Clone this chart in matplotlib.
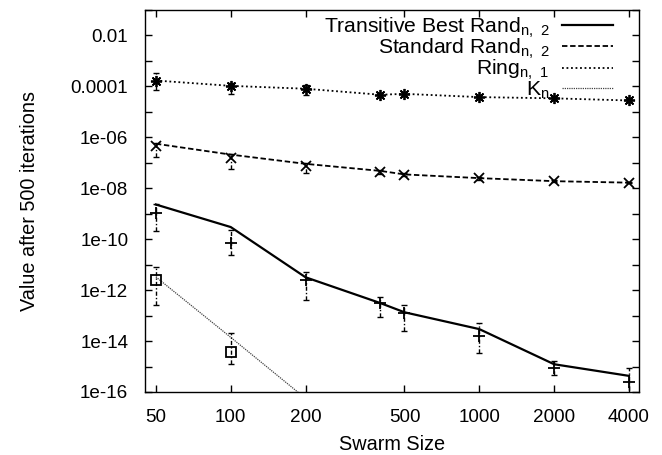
import matplotlib
matplotlib.use("Agg")
import matplotlib.pyplot as plt
from matplotlib.lines import Line2D
from matplotlib.ticker import FixedLocator, NullFormatter, FuncFormatter
import numpy as np

plt.rcParams['font.family'] = ['Liberation Sans', 'DejaVu Sans']
plt.rcParams['mathtext.default'] = 'regular'

swarm = [50, 100, 200, 400, 500, 1000, 2000, 4000]

# Transitive Best Rand_{n,2}
tb_line = [2.3e-9, 3.0e-10, 3.2e-12, 3.1e-13, 1.35e-13, 2.95e-14, 1.23e-15, 4.3e-16]
tb_pts = [1.1e-9, 6.8e-11, 2.5e-12, 3.2e-13, 1.3e-13, 1.6e-14, 8.5e-16, 2.4e-16]
tb_lo = [2.1e-10, 2.3e-11, 4.1e-13, 8.5e-14, 2.5e-14, 3.3e-15, 4.7e-16, 5e-17]
tb_hi = [2.5e-9, 2.2e-10, 5.2e-12, 5.5e-13, 2.6e-13, 4.9e-14, 1.66e-15, 8.5e-16]

# Standard Rand_{n,2}
st_line = [5.6e-7, 2.1e-7, 9.1e-8, 4.8e-8, 3.5e-8, 2.5e-8, 1.9e-8, 1.66e-8]
st_pts = [4.5e-7, 1.6e-7, 7.4e-8, 4.4e-8, 3.4e-8, 2.5e-8, 1.9e-8, 1.66e-8]
st_lo = [1.7e-7, 5.6e-8, 3.9e-8, 3.5e-8, 3.0e-8, 2.2e-8, 1.7e-8, 1.55e-8]
st_hi = [6.0e-7, 2.2e-7, 1.0e-7, 5.0e-8, 4.0e-8, 2.8e-8, 2.1e-8, 1.75e-8]

# Ring_{n,1}
rg_line = [1.7e-4, 1.05e-4, 8.1e-5, 4.7e-5, 5.1e-5, 3.8e-5, 3.4e-5, 2.8e-5]
rg_pts = [1.7e-4, 1.0e-4, 7.8e-5, 4.5e-5, 5.1e-5, 3.8e-5, 3.5e-5, 2.8e-5]
rg_lo = [7.0e-5, 4.9e-5, 4.7e-5, 3.8e-5, 4.3e-5, 3.2e-5, 3.0e-5, 2.5e-5]
rg_hi = [3.3e-4, 1.3e-4, 1.1e-4, 5.5e-5, 6.0e-5, 4.4e-5, 4.0e-5, 3.2e-5]

# K_n
kn_x = [50, 100]
kn_pts = [2.45e-12, 3.8e-15]
kn_lo = [2.6e-13, 1.26e-15]
kn_hi = [7.8e-12, 2.1e-14]
kn_line_x = [50, 100, 200]
kn_line = [3.3e-12, 1.4e-14, 5.6e-17]

xticks = [50, 100, 200, 500, 1000, 2000, 4000]
yticks = [1e-16, 1e-14, 1e-12, 1e-10, 1e-8, 1e-6, 1e-4, 1e-2]
ylabels = ['1e-16', '1e-14', '1e-12', '1e-10', '1e-08', '1e-06', '0.0001', '0.01']

labels = [r'Transitive Best Rand$_{n,\ 2}$', r'Standard Rand$_{n,\ 2}$',
          r'Ring$_{n,\ 1}$', r'K$_{n}$']

fig = plt.figure(figsize=(6.62, 4.55), dpi=100)
ax = fig.add_axes([145/662, 63/455, 494/662, 382/455])
ax.set_xscale('log')
ax.set_yscale('log')


def errs(pts, lo, hi):
    p = np.array(pts); l = np.array(lo); h = np.array(hi)
    return [p - l, h - p]


def draw_err(x, pts, lo, hi, marker, ms):
    cont = ax.errorbar(x, pts, yerr=errs(pts, lo, hi), fmt='none', ecolor='black',
                       elinewidth=1.0, capsize=2.5, capthick=1.0, zorder=3)
    for bc in cont[2]:
        bc.set_linestyle((0, (3, 1.5, 1, 1.5)))
    ax.plot(x, pts, linestyle='none', marker=marker, markersize=ms, color='black',
            markerfacecolor='none', markeredgewidth=1.3, zorder=4)


# lines
ax.plot(swarm, tb_line, color='black', lw=1.6, ls='-', zorder=2)
ax.plot(swarm, st_line, color='black', lw=1.3, ls=(0, (3, 1.5)), zorder=2)
ax.plot(swarm, rg_line, color='black', lw=1.3, ls=(0, (1, 1.5)), zorder=2)
ax.plot(kn_line_x, kn_line, color='#444444', lw=0.9, ls=(0, (1, 0.8)), zorder=2)

# points with error bars
draw_err(swarm, tb_pts, tb_lo, tb_hi, '+', 9)
draw_err(swarm, st_pts, st_lo, st_hi, 'x', 7)
draw_err(swarm, rg_pts, rg_lo, rg_hi, (8, 2, 0), 8)
draw_err(kn_x, kn_pts, kn_lo, kn_hi, 's', 7)

ax.set_xlim(45.2, 4390)
ax.set_ylim(1e-16, 1e-1)

ax.xaxis.set_major_locator(FixedLocator(xticks))
ax.xaxis.set_major_formatter(FuncFormatter(lambda v, p: '%d' % v))
ax.xaxis.set_minor_locator(FixedLocator([]))
ax.yaxis.set_major_locator(FixedLocator(yticks))
ax.set_yticklabels(ylabels)
ax.yaxis.set_minor_locator(FixedLocator([10.0 ** e for e in range(-15, 0, 2)]))
ax.yaxis.set_minor_formatter(NullFormatter())

ax.tick_params(which='both', direction='in', top=True, right=True, length=5,
               width=1.0, labelsize=13.6)
ax.tick_params(axis='x', pad=12)
ax.tick_params(axis='y', pad=12)
for s in ax.spines.values():
    s.set_linewidth(1.0)

ax.set_xlabel('Swarm Size', fontsize=14.3)
ax.set_ylabel('Value after 500 iterations', fontsize=14.3)
ax.xaxis.set_label_coords(0.5, -0.112)
ax.yaxis.set_label_coords(-0.215, 0.5)

handles = [Line2D([], [], color='black', lw=1.6, ls='-'),
           Line2D([], [], color='black', lw=1.3, ls=(0, (3, 1.5))),
           Line2D([], [], color='black', lw=1.3, ls=(0, (1, 1.5))),
           Line2D([], [], color='#444444', lw=0.9, ls=(0, (1, 0.8)))]
leg = ax.legend(handles, labels, loc='upper right', bbox_to_anchor=(0.947, 0.985),
                frameon=False, markerfirst=False, fontsize=15.2, handlelength=2.4,
                handletextpad=0.6, labelspacing=-0.14, borderpad=0, borderaxespad=0)
leg.set_zorder(5)

fig.savefig('out.png', dpi=100)
